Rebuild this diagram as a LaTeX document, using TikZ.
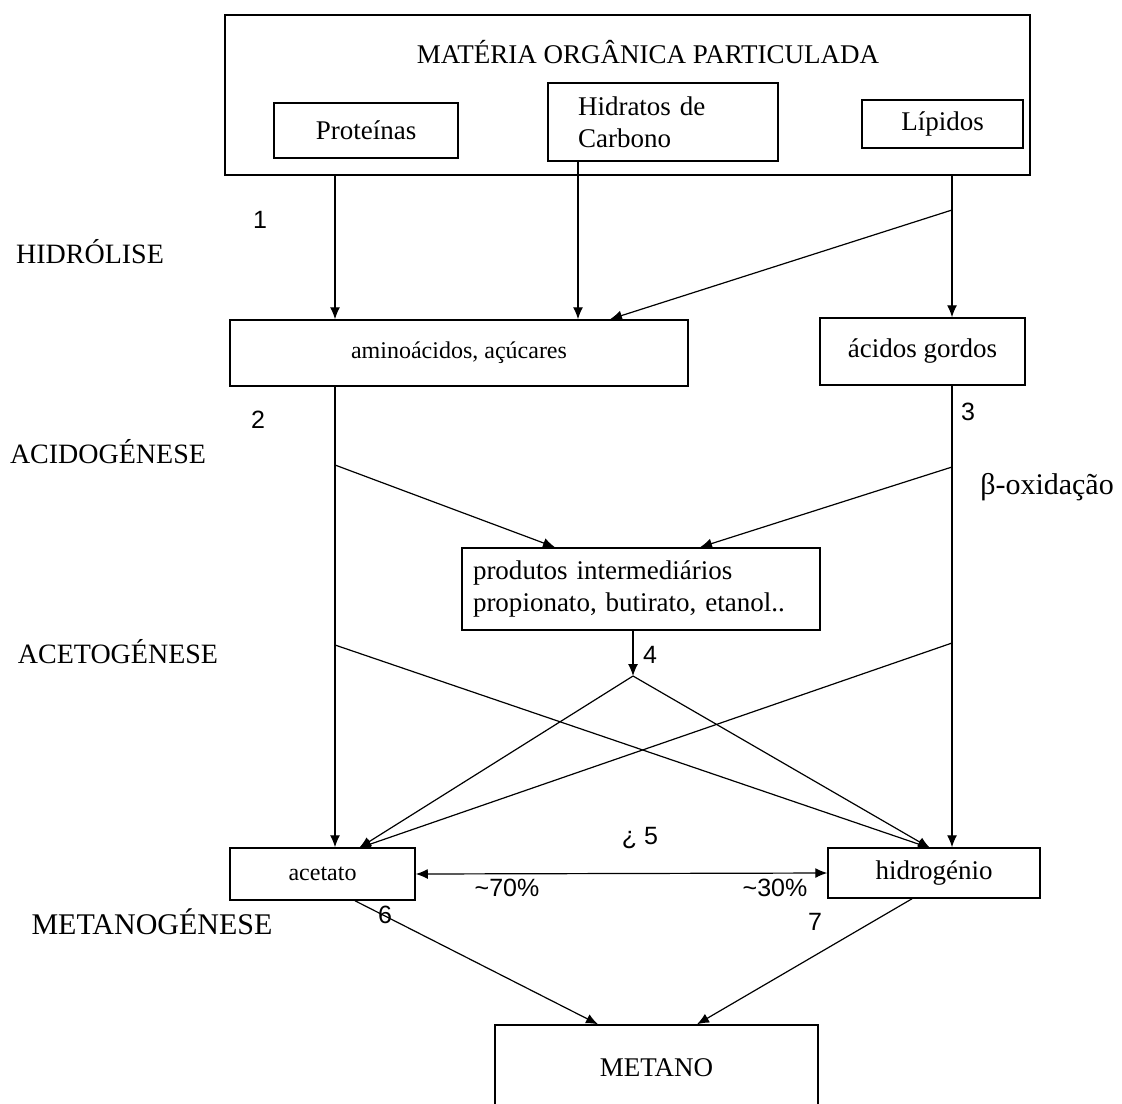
\documentclass[tikz,border=0pt]{standalone}
\usepackage{fontspec}
\setmainfont{Liberation Serif}
\newfontfamily\numfont{Liberation Sans}
\usepackage{tikz}
\usetikzlibrary{arrows.meta}

\begin{document}
\begin{tikzpicture}[x=0.5pt,y=-0.5pt,line width=0.6pt,>={Latex[length=6pt,width=5pt]},
  every node/.style={font=\fontsize{13.5}{16}\selectfont},
  box/.style={draw,line width=0.75pt,inner sep=0pt},
  stagelbl/.style={font=\fontsize{14}{16}\selectfont},
  num/.style={font=\numfont\fontsize{12.5}{14}\selectfont}]
\useasboundingbox (0,0) rectangle (1122,1103);
% boxes
\node[box,minimum width=402.5pt,minimum height=80pt] (mop) at (627.5,95) {};
\node (title) at (648,52) {MATÉRIA ORGÂNICA PARTICULADA};
\node[box,minimum width=92pt,minimum height=27.5pt] (prot) at (366,130.5) {Proteínas};
\node[box,minimum width=115pt,minimum height=39pt,text width=85pt,align=left] (hid) at (663,122) {Hidratos de\\Carbono};
\node[box,minimum width=80.5pt,minimum height=24pt] (lip) at (942.5,124) {Lípidos};
\node[box,minimum width=229pt,minimum height=33pt,font=\fontsize{12}{14}\selectfont] (ami) at (459,353) {aminoácidos, açúcares};
\node[box,minimum width=102.5pt,minimum height=33.5pt] (ag) at (922.5,351.5) {ácidos gordos};
\node[box,minimum width=179pt,minimum height=41pt,text width=168pt,align=left] (prod) at (641,589) {produtos intermediários\\propionato, butirato, etanol..};
\node[box,minimum width=92.5pt,minimum height=26pt,font=\fontsize{12}{14}\selectfont] (ace) at (322.5,874) {acetato};
\node[box,minimum width=106pt,minimum height=25pt] (hyd) at (934,873) {hidrogénio};
\node[box,minimum width=161.5pt,minimum height=42.5pt] (met) at (656.5,1067.5) {METANO};
% stages
\node[stagelbl] (hidr) at (90,252) {HIDRÓLISE};
\node[stagelbl] (acid) at (108,452) {ACIDOGÉNESE};
\node[stagelbl] (acet) at (118,652) {ACETOGÉNESE};
\node[stagelbl,font=\fontsize{15}{17}\selectfont] (meta) at (152,922) {METANOGÉNESE};
\node[font=\fontsize{15}{17}\selectfont] (beta) at (1047,487) {β-oxidação};
% step numbers
\node[num] (n1) at (260,220) {1};
\node[num] (n2) at (258,420) {2};
\node[num] (n3) at (968,412) {3};
\node[num] (n4) at (650,655) {4};
\node[num] (n5) at (640,838) {¿ 5};
\node[num] (n6) at (385,915) {6};
\node[num] (n7) at (815,922) {7};
\node[num] (p70) at (507,888) {\char`\~70\%};
\node[num] (p30) at (775,888) {\char`\~30\%};
% points
\coordinate (xl) at (335,0);
\coordinate (xh) at (578,0);
\coordinate (xr) at (952,0);
\coordinate (xa) at (610,0);
\coordinate (jl) at (952,210);
\coordinate (ja) at (335,465);
\coordinate (jb) at (952,467);
\coordinate (jc) at (335,645);
\coordinate (jd) at (952,643);
\coordinate (j4) at (633,676);
\coordinate (ea) at (359,848);
\coordinate (eh) at (930,848);
% arrows
\draw [->] (mop.south -| xl)--(ami.north -| xl);
\draw [->] (hid.south -| xh)--(ami.north -| xh);
\draw [->] (mop.south -| xr)--(ag.north -| xr);
\draw [->] (jl)--(ami.north -| xa);
\draw [->] (ami.south -| xl)--(ace.north -| xl);
\draw [->] (ag.south -| xr)--(hyd.north -| xr);
\draw [->] (ja)--(prod.north -| 555,0);
\draw [->] (jb)--(prod.north -| 700,0);
\draw [->] (prod.south -| j4)--(j4);
\draw [->] (j4)--(ea);
\draw [->] (j4)--(eh);
\draw [->] (jc)--(eh);
\draw [->] (jd)--(ea);
\draw [<->] (ace.east)--(hyd.west);
\draw [->] (ace.south -| 355,0)--(met.north -| 598,0);
\draw [->] (hyd.south -| 912,0)--(met.north -| 697,0);
\end{tikzpicture}
\end{document}
